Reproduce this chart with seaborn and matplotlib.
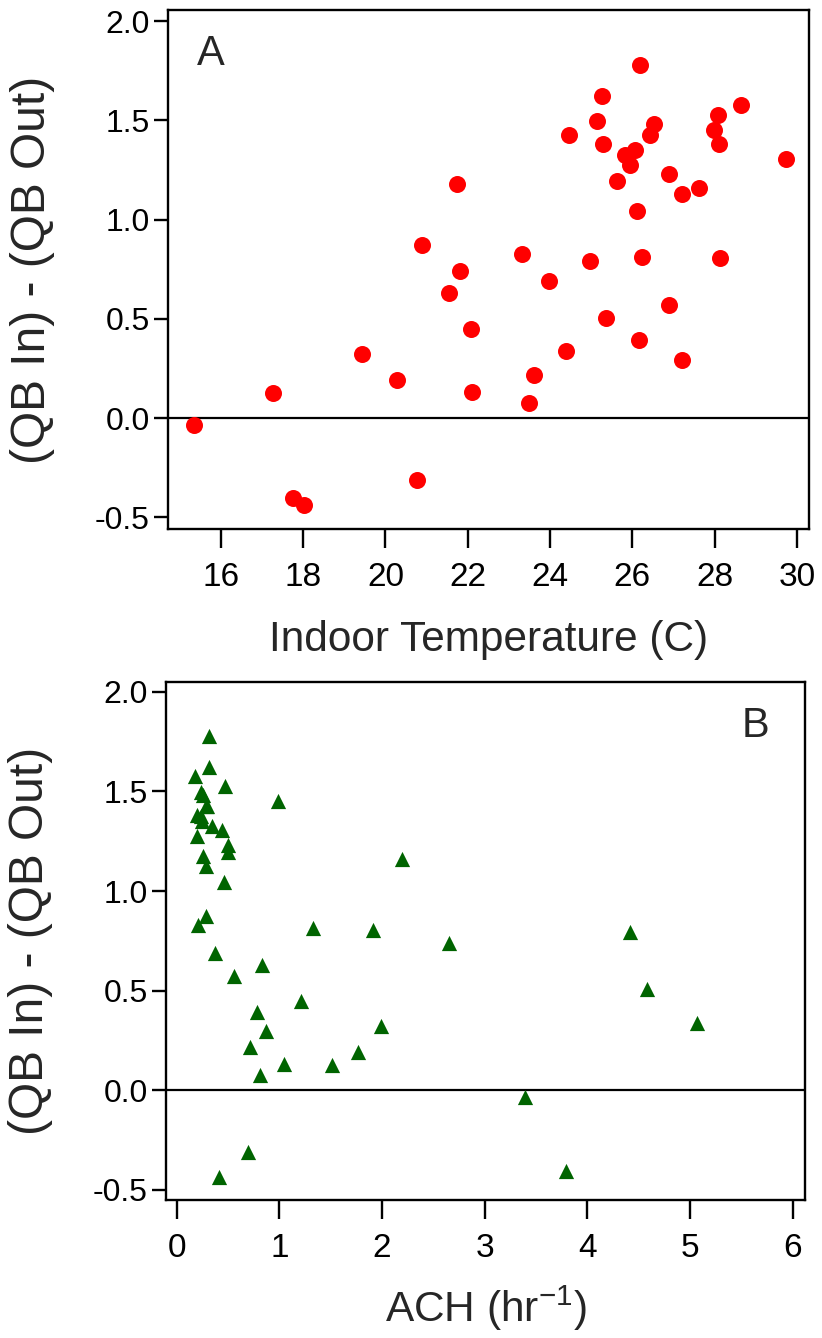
import matplotlib
matplotlib.use("Agg")
import matplotlib.pyplot as plt
import seaborn as sns
import pandas as pd

# Difference between indoor and outdoor QB for each home
qb_diff = [1.778, 1.624, 1.580, 1.528, 1.496, 1.480, 1.453, 1.426, 1.426, 1.380,
           1.379, 1.350, 1.325, 1.305, 1.275, 1.231, 1.194, 1.178, 1.161, 1.127,
           1.043, 0.872, 0.828, 0.812, 0.805, 0.792, 0.740, 0.689, 0.629, 0.572,
           0.506, 0.449, 0.394, 0.339, 0.324, 0.295, 0.219, 0.193, 0.131, 0.127,
           0.075, -0.034, -0.311, -0.405, -0.436]

# Indoor temperature (C) for each home
indoor_temp = [26.18, 25.27, 28.63, 28.07, 25.15, 26.53, 27.99, 24.45, 26.43, 28.10,
               25.28, 26.07, 25.81, 29.73, 25.94, 26.89, 25.62, 21.73, 27.62, 27.20,
               26.10, 20.89, 23.32, 26.24, 28.14, 24.96, 21.81, 23.97, 21.55, 26.90,
               25.37, 22.09, 26.15, 24.38, 19.43, 27.21, 23.61, 20.29, 22.11, 17.27,
               23.49, 15.36, 20.78, 17.76, 18.02]

# Air changes per hour for each home
ach = [0.315, 0.318, 0.178, 0.474, 0.237, 0.260, 0.990, 0.289, 0.300, 0.201,
       0.240, 0.250, 0.341, 0.438, 0.195, 0.497, 0.497, 0.260, 2.197, 0.290,
       0.461, 0.282, 0.210, 1.327, 1.908, 4.411, 2.648, 0.373, 0.834, 0.561,
       4.582, 1.213, 0.779, 5.063, 1.993, 0.867, 0.714, 1.769, 1.045, 1.512,
       0.814, 3.394, 0.697, 3.788, 0.415]

temp_ticks = [16, 18, 20, 22, 24, 26, 28, 30]
ach_ticks = [0, 1, 2, 3, 4, 5, 6]
y_ticks = [2.0, 1.5, 1.0, 0.5, 0.0, -0.5]
y_ticklabels = ["2.0", "1.5", "1.0", "0.5", "0.0", "-0.5"]

df = pd.DataFrame({"diff": qb_diff, "temp": indoor_temp, "ach": ach})

sns.set_style("ticks")
plt.rcParams["font.family"] = ["Liberation Sans", "DejaVu Sans"]
plt.rcParams["mathtext.default"] = "regular"
plt.rcParams["axes.unicode_minus"] = False

fig = plt.figure(figsize=(8.22, 13.38), dpi=100)
ax_a = fig.add_axes([0.2044, 0.6046, 0.7798, 0.3879])
ax_b = fig.add_axes([0.2019, 0.1031, 0.7774, 0.3871])

sns.scatterplot(data=df, x="temp", y="diff", ax=ax_a, color="#ff0000",
                marker="o", s=150, linewidth=0, zorder=3, clip_on=False)
sns.scatterplot(data=df, x="ach", y="diff", ax=ax_b, color="#006400",
                marker="^", s=120, linewidth=0, zorder=3, clip_on=False)

ax_a.set_xlim(14.72, 30.29)
ax_b.set_xlim(-0.104, 6.118)
ax_a.set_ylim(-0.559, 2.056)
ax_b.set_ylim(-0.552, 2.049)

ax_a.set_xticks(temp_ticks)
ax_a.set_xticklabels([str(t) for t in temp_ticks])
ax_b.set_xticks(ach_ticks)
ax_b.set_xticklabels([str(t) for t in ach_ticks])

for ax in (ax_a, ax_b):
    ax.axhline(0, color="black", lw=1.6, zorder=2)
    ax.set_yticks(y_ticks)
    ax.set_yticklabels(y_ticklabels)
    for side in ("left", "right", "top", "bottom"):
        ax.spines[side].set_visible(True)
        ax.spines[side].set_color("black")
        ax.spines[side].set_linewidth(1.7)
    ax.tick_params(axis="x", direction="out", length=14, width=1.7,
                   labelsize=24, pad=10, colors="black")
    ax.tick_params(axis="y", direction="out", length=10, width=1.7,
                   labelsize=23, pad=3, colors="black")
    ax.set_ylabel("(QB In) - (QB Out)", fontsize=34.5)
    ax.yaxis.set_label_coords(-0.176, 0.5)

ax_a.set_xlabel("Indoor Temperature (C)", fontsize=30.5)
ax_a.xaxis.set_label_coords(0.5, -0.175)
ax_b.set_xlabel("ACH (hr$^{-1}$)", fontsize=30.5)
ax_b.xaxis.set_label_coords(0.5, -0.162)

ax_a.text(0.045, 0.915, "A", transform=ax_a.transAxes, fontsize=30,
          ha="left", va="center")
ax_b.text(0.945, 0.915, "B", transform=ax_b.transAxes, fontsize=30,
          ha="right", va="center")

fig.savefig("out.png", dpi=100)
